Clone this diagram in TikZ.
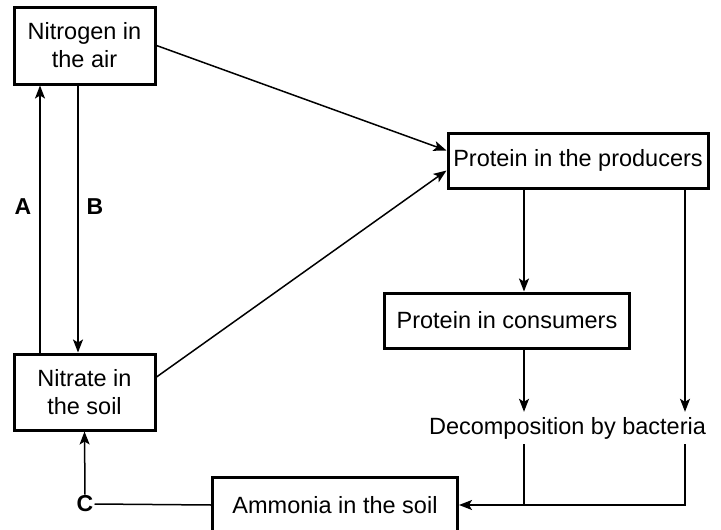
\documentclass[tikz,border=0pt]{standalone}
\usepackage{fontspec}
\setmainfont{Liberation Sans}
\usepackage{tikz}
\usetikzlibrary{arrows.meta}

\begin{document}
\begin{tikzpicture}[
    x=1pt, y=-1pt,
    every node/.style={font=\fontsize{23.5}{28}\selectfont},
    box/.style={draw, line width=3pt, fill=white, align=center,
                inner sep=0pt},
    flow/.style={draw, -{Stealth[length=13pt, width=10pt, inset=3pt]},
                 line width=1.5pt},
    link/.style={draw, line width=1.5pt},
    tag/.style={font=\fontsize{23}{26}\selectfont\bfseries, inner sep=1pt}
  ]
  \fill[white] (0,0) rectangle (721,530);
  \clip (0,0) rectangle (721,530);

  \node[box, minimum width=141pt, minimum height=77pt] (nitrogen) at (84.5,45.5)
    {Nitrogen in\\the air};
  \node[box, minimum width=141pt, minimum height=76pt] (nitrate) at (84.5,392)
    {Nitrate in\\the soil};
  \node[box, minimum width=260pt, minimum height=55pt] (prod) at (578,160.5)
    {Protein in the producers};
  \node[box, minimum width=245pt, minimum height=55pt] (cons) at (507,320.5)
    {Protein in consumers};
  \node[inner sep=0pt, minimum height=32pt] (decomp) at (567.5,428)
    {Decomposition by bacteria};
  \node[box, minimum width=245pt, minimum height=56pt] (ammonia) at (335,505)
    {Ammonia in the soil};

  \node[tag] (a) at (23,207) {A};
  \node[tag] (b) at (95,207) {B};
  \node[tag] (c) at (85,504) {C};

  \coordinate (pl) at ([xshift=-54pt]prod.south);
  \coordinate (pr) at ([xshift=107pt]prod.south);

  \draw[flow] ([xshift=-44.5pt]nitrate.north) -- ([xshift=-44.5pt]nitrogen.south);
  \draw[flow] ([xshift=-6.5pt]nitrogen.south) -- ([xshift=-6.5pt]nitrate.north);
  \draw[flow] (nitrogen.east) -- ([yshift=10pt]prod.west);
  \draw[flow] ([yshift=15pt]nitrate.east) -- ([yshift=-10pt]prod.west);
  \draw[flow] (pl) -- (pl |- cons.north);
  \draw[flow] (pl |- cons.south) -- (pl |- decomp.north);
  \draw[flow] (pr) -- (pr |- decomp.north);
  \draw[link] (pl |- decomp.south) -- (pl |- ammonia.east);
  \draw[flow] (pr |- decomp.south) |- (ammonia.east);
  \draw[link] (ammonia.west) -- (c.east);
  \draw[flow] (c.north) -- (nitrate.south);
\end{tikzpicture}
\end{document}
